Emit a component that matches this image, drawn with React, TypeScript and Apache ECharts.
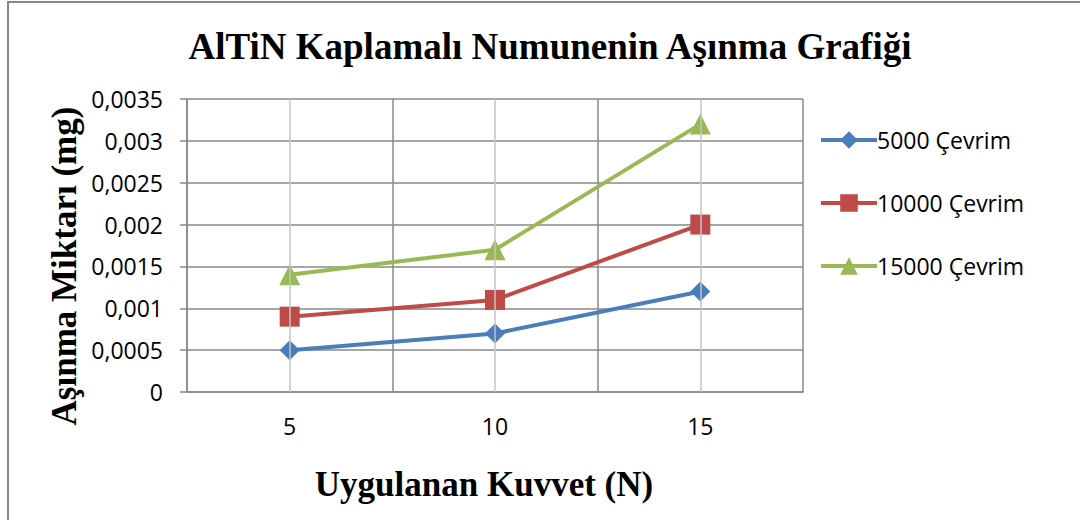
import React, { useEffect, useRef } from "react";
import * as echarts from "echarts";

const categories = ["5", "10", "15"];
const seriesNames = ["5000 Çevrim", "10000 Çevrim", "15000 Çevrim"];
const values5000 = [0.0005, 0.0007, 0.0012];
const values10000 = [0.0009, 0.0011, 0.002];
const values15000 = [0.0014, 0.0017, 0.0032];

const titleText = "AlTiN Kaplamalı Numunenin Aşınma Grafiği";
const xName = "Uygulanan Kuvvet (N)";
const yName = "Aşınma Miktarı (mg)";

const serif = "'Liberation Serif', 'Times New Roman', serif";
const sans = "'Open Sans', 'Liberation Sans', sans-serif";

export default function App() {
  const ref = useRef<HTMLDivElement>(null);
  useEffect(() => {
    if (!ref.current) return;
    const chart = echarts.init(ref.current, null, { renderer: "svg" });
    const mk = (name: string, data: number[], color: string, symbol: string, size: number) => ({
      name,
      type: "line",
      data,
      symbol,
      symbolSize: size,
      z: 3,
      lineStyle: { color, width: 4 },
      itemStyle: { color },
    });
    chart.setOption({
      animation: false,
      backgroundColor: "#fff",
      title: {
        text: titleText,
        left: 545,
        textAlign: "center",
        top: 23,
        textStyle: { fontFamily: serif, fontWeight: "bold", fontSize: 37, color: "#000" },
      },
      grid: { left: 187, top: 99, right: 277, bottom: 128 },
      legend: {
        orient: "vertical",
        left: 814,
        top: 123,
        itemWidth: 56,
        itemHeight: 22,
        itemGap: 39,
        data: seriesNames,
        lineStyle: { width: 4 },
        textStyle: { fontFamily: sans, fontSize: 23, color: "#000", lineHeight: 24, padding: [0, 0, 0, -5] },
      },
      xAxis: {
        type: "category",
        data: categories,
        boundaryGap: true,
        axisLine: { lineStyle: { color: "#888", width: 1.5 } },
        axisTick: { show: false },
        axisLabel: { margin: 22, fontFamily: sans, fontSize: 23, color: "#000" },
        splitLine: { show: true, lineStyle: { color: "#888", width: 1.5 } },
      },
      yAxis: {
        type: "value",
        min: 0,
        max: 0.0035,
        interval: 0.0005,
        axisLine: { show: true, lineStyle: { color: "#888", width: 1.5 } },
        axisTick: { show: true, length: 7, lineStyle: { color: "#888", width: 1.5 } },
        axisLabel: {
          margin: 24,
          fontFamily: sans,
          fontSize: 23,
          color: "#000",
          formatter: (v: number) => Number(v.toFixed(4)).toString().replace(".", ","),
        },
        splitLine: { show: true, lineStyle: { color: "#888", width: 1.5 } },
      },
      series: [
        {
          name: "_grid",
          type: "line",
          data: [],
          z: 1,
          silent: true,
          markLine: {
            silent: true,
            symbol: "none",
            label: { show: false },
            lineStyle: { color: "#c4c4c4", width: 1.5, type: "solid" },
            data: categories.map((c) => ({ xAxis: c })),
          },
        },
        mk(seriesNames[0], values5000, "#4A7EBB", "diamond", 20),
        mk(seriesNames[1], values10000, "#BE4B48", "rect", 20),
        mk(seriesNames[2], values15000, "#98B954", "triangle", 21),
      ],
      graphic: [
        {
          type: "rect",
          shape: { x: 8, y: 2, width: 1200, height: 700 },
          style: { fill: "none", stroke: "#888", lineWidth: 2 },
          silent: true,
        },
        {
          type: "text",
          x: 484,
          y: 484,
          style: {
            text: xName,
            fontFamily: serif,
            fontWeight: "bold",
            fontSize: 35,
            fill: "#000",
            align: "center",
            verticalAlign: "middle",
          },
          silent: true,
        },
        {
          type: "text",
          x: 64,
          y: 266,
          rotation: Math.PI / 2,
          style: {
            text: yName,
            fontFamily: serif,
            fontWeight: "bold",
            fontSize: 35,
            fill: "#000",
            align: "center",
            verticalAlign: "middle",
          },
          silent: true,
        },
      ],
    });
    return () => chart.dispose();
  }, []);
  return <div ref={ref} style={{ position: "fixed", left: 0, top: 0, width: 1080, height: 520 }} />;
}
